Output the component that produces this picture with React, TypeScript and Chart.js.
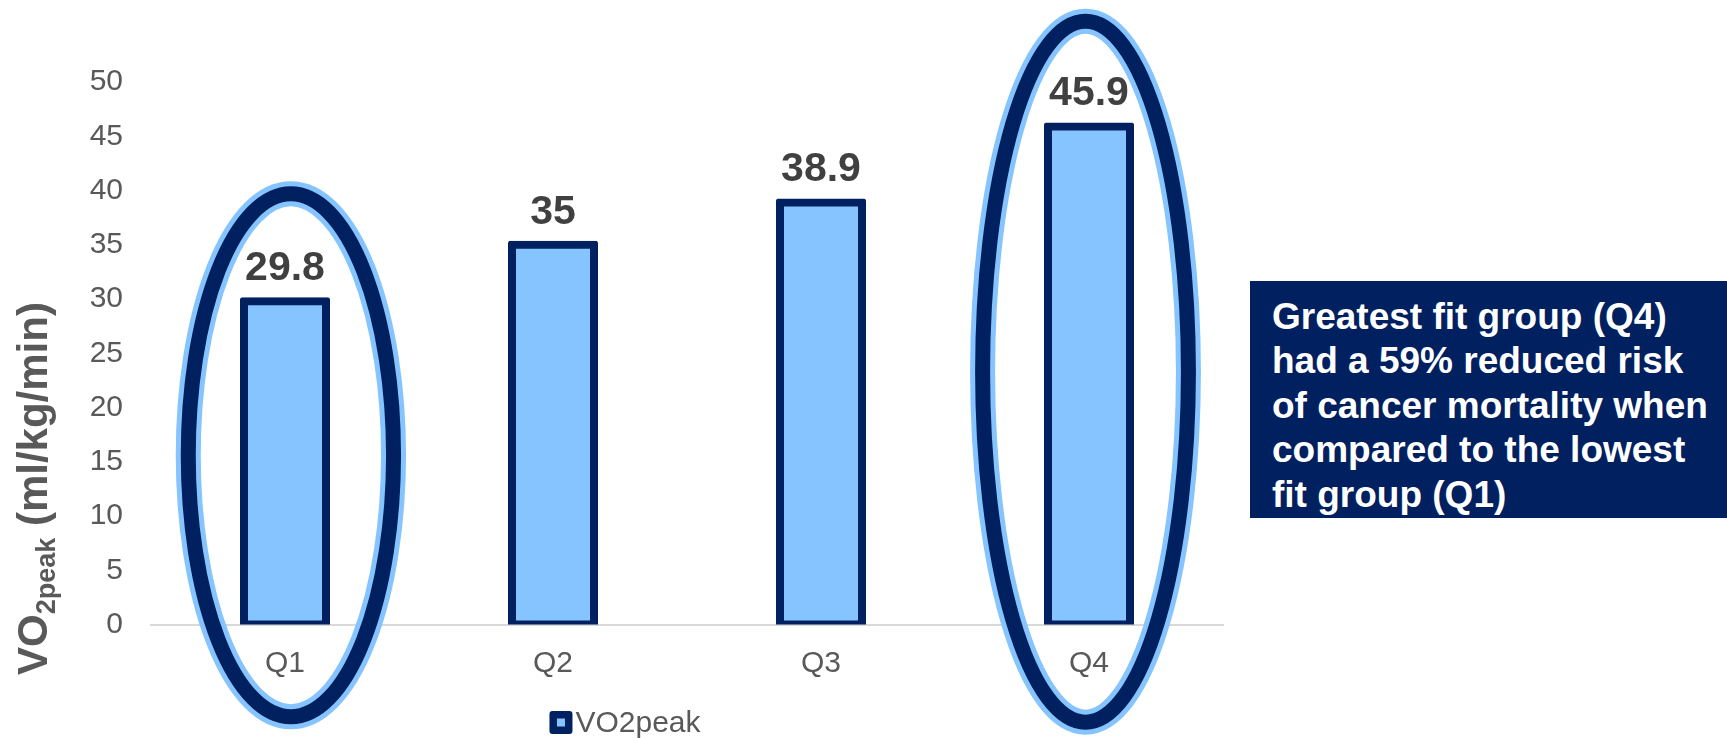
import React, { useEffect, useRef } from "react";
import { Chart, registerables } from "chart.js";

Chart.register(...registerables);

// ---- data ----
const categories: string[] = ["Q1", "Q2", "Q3", "Q4"];
const vo2peakValues: number[] = [29.8, 35, 38.9, 45.9];
const yTickValues: number[] = [0, 5, 10, 15, 20, 25, 30, 35, 40, 45, 50];
const seriesLabel = "VO2peak";
const highlightedCategories: string[] = ["Q1", "Q4"];
const noteLines: string[] = [
  "Greatest fit group (Q4)",
  "had a 59% reduced risk",
  "of cancer mortality when",
  "compared to the lowest",
  "fit group (Q1)",
];

// ---- styling / annotation geometry ----
const FONT = "'Liberation Sans', Arial, Helvetica, sans-serif";
const NAVY = "#002060";
const LIGHT = "#85C4FF";
const GRAY = "#595959";
const LABEL_GRAY = "#404040";

// ellipse geometry per highlighted category (in category / value units)
const ellipseGeometry: Record<string, { dx: number; top: number; bottom: number; half: number }> = {
  Q1: { dx: 0.022, top: 39.7, bottom: -8.5, half: 0.383 },
  Q4: { dx: -0.013, top: 55.6, bottom: -9.0, half: 0.384 },
};

const overlayPlugin = {
  id: "overlay",
  afterDatasetsDraw(chart: any) {
    const ctx = chart.ctx as CanvasRenderingContext2D;
    const meta = chart.getDatasetMeta(0);
    ctx.save();
    ctx.font = `bold 41px ${FONT}`;
    ctx.fillStyle = LABEL_GRAY;
    ctx.textAlign = "center";
    ctx.textBaseline = "alphabetic";
    meta.data.forEach((bar: any, i: number) => {
      ctx.fillText(String(vo2peakValues[i]), bar.x, bar.y - 21);
    });
    ctx.restore();
  },
  afterDraw(chart: any) {
    const ctx = chart.ctx as CanvasRenderingContext2D;
    const xs = chart.scales.x;
    const ys = chart.scales.y;
    const catW = xs.getPixelForValue(1) - xs.getPixelForValue(0);
    // ellipses
    highlightedCategories.forEach((cat) => {
      const g = ellipseGeometry[cat];
      const idx = categories.indexOf(cat);
      const cx = xs.getPixelForValue(idx + g.dx);
      const yTop = ys.getPixelForValue(g.top);
      const yBot = ys.getPixelForValue(g.bottom);
      const cy = (yTop + yBot) / 2;
      const ry = (yBot - yTop) / 2;
      const rx = g.half * catW;
      ctx.save();
      ctx.beginPath();
      ctx.ellipse(cx, cy, rx, ry, 0, 0, Math.PI * 2);
      ctx.strokeStyle = LIGHT;
      ctx.lineWidth = 25;
      ctx.stroke();
      ctx.strokeStyle = NAVY;
      ctx.lineWidth = 15;
      ctx.stroke();
      ctx.restore();
    });
    // y axis title with subscript
    ctx.save();
    ctx.translate(47, 675);
    ctx.rotate(-Math.PI / 2);
    ctx.fillStyle = GRAY;
    ctx.textAlign = "left";
    ctx.textBaseline = "alphabetic";
    ctx.font = `bold 42px ${FONT}`;
    ctx.fillText("VO", 0, 0);
    const w1 = ctx.measureText("VO").width;
    ctx.font = `bold 27px ${FONT}`;
    ctx.fillText("2peak", w1, 8);
    const w2 = ctx.measureText("2peak").width;
    ctx.font = `bold 42px ${FONT}`;
    ctx.fillText(" (ml/kg/min)", w1 + w2, 0);
    ctx.restore();
    // legend (single series, centred under the canvas)
    const ds = chart.data.datasets[0];
    ctx.save();
    ctx.font = `30px ${FONT}`;
    const tw = ctx.measureText(ds.label).width;
    const box = 23;
    const gap = 3;
    const total = box + gap + tw;
    const cxL = chart.width / 2;
    const cyL = 722.5;
    const x0 = cxL - total / 2;
    ctx.fillStyle = ds.borderColor;
    ctx.beginPath();
    (ctx as any).roundRect
      ? (ctx as any).roundRect(x0, cyL - box / 2, box, box, 3)
      : ctx.rect(x0, cyL - box / 2, box, box);
    ctx.fill();
    ctx.fillStyle = ds.backgroundColor;
    ctx.fillRect(x0 + 7.5, cyL - 4, 8, 8);
    ctx.fillStyle = GRAY;
    ctx.textAlign = "left";
    ctx.textBaseline = "middle";
    ctx.fillText(ds.label, x0 + box + gap, cyL + 1);
    ctx.restore();
  },
};

export default function App() {
  const canvasRef = useRef<HTMLCanvasElement | null>(null);

  useEffect(() => {
    if (!canvasRef.current) return;
    Chart.defaults.font.family = FONT;
    const chart = new Chart(canvasRef.current, {
      type: "bar",
      data: {
        labels: categories,
        datasets: [
          {
            label: seriesLabel,
            data: vo2peakValues,
            backgroundColor: LIGHT,
            borderColor: NAVY,
            borderWidth: 8,
            borderSkipped: false,
            borderRadius: 2,
            inflateAmount: 4,
            barPercentage: 0.306,
            categoryPercentage: 1.0,
            clip: { left: false, top: false, right: false, bottom: 0 },
          } as any,
        ],
      },
      options: {
        responsive: false,
        animation: false,
        devicePixelRatio: 1,
        layout: { padding: { top: 82, right: 27, bottom: 53, left: 0 } },
        plugins: {
          tooltip: { enabled: false },
          legend: { display: false },
        },
        scales: {
          x: {
            grid: { display: false, drawTicks: false },
            border: { display: true, color: "#d9d9d9", width: 2 },
            ticks: { color: GRAY, font: { size: 30 }, padding: 21 },
            afterFit: (s: any) => {
              s.height = 72.5;
            },
          },
          y: {
            min: 0,
            max: 50,
            grid: { display: false, drawTicks: false },
            border: { display: false },
            ticks: { color: GRAY, font: { size: 30 }, padding: 28 },
            afterBuildTicks: (s: any) => {
              s.ticks = yTickValues.map((v) => ({ value: v }));
            },
            afterFit: (s: any) => {
              s.width = 151;
            },
          },
        },
      },
      plugins: [overlayPlugin],
    });
    return () => chart.destroy();
  }, []);

  return (
    <div
      style={{
        position: "absolute",
        left: 0,
        top: 0,
        width: 1727,
        height: 738,
        overflow: "hidden",
        background: "#fff",
      }}
    >
      <canvas
        ref={canvasRef}
        width={1250}
        height={750}
        style={{ position: "absolute", left: 0, top: 0, width: 1250, height: 750 }}
      />
      <div
        style={{
          position: "absolute",
          left: 1250,
          top: 281,
          width: 477,
          height: 237,
          boxSizing: "border-box",
          background: NAVY,
          color: "#fff",
          fontFamily: FONT,
          fontWeight: "bold",
          fontSize: 37,
          lineHeight: "44.4px",
          padding: "14px 0 0 22px",
          whiteSpace: "nowrap",
        }}
      >
        {noteLines.map((l, i) => (
          <div key={i}>{l}</div>
        ))}
      </div>
    </div>
  );
}
